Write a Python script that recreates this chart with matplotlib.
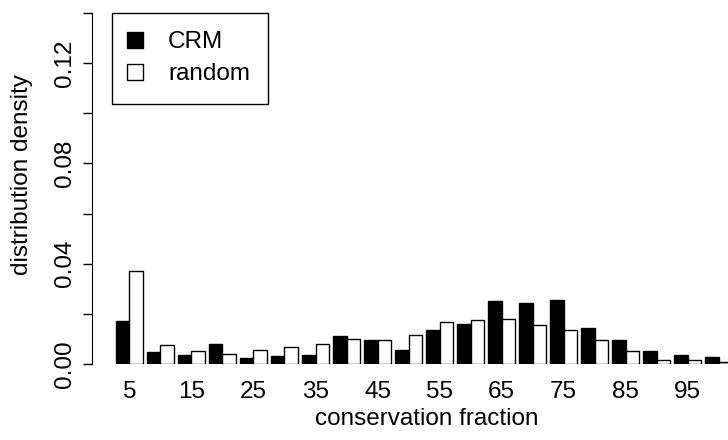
import numpy as np
import matplotlib
matplotlib.use("Agg")
import matplotlib.pyplot as plt
from matplotlib.lines import Line2D

plt.rcParams['font.family'] = ['Liberation Sans', 'DejaVu Sans']
plt.rcParams['font.size'] = 17.5

# conservation fraction bins (upper edge, percent)
bins = [5, 10, 15, 20, 25, 30, 35, 40, 45, 50,
        55, 60, 65, 70, 75, 80, 85, 90, 95, 100]
crm = [0.0170, 0.0046, 0.0037, 0.0078, 0.0022, 0.0030, 0.0037, 0.0110, 0.0095, 0.0054,
       0.0136, 0.0160, 0.0251, 0.0243, 0.0257, 0.0143, 0.0094, 0.0053, 0.0037, 0.0027]
rand = [0.0369, 0.0074, 0.0051, 0.0038, 0.0057, 0.0067, 0.0081, 0.0101, 0.0097, 0.0117,
        0.0166, 0.0176, 0.0179, 0.0154, 0.0134, 0.0097, 0.0051, 0.0017, 0.0017, 0.0007]
yticks = [0.00, 0.02, 0.04, 0.06, 0.08, 0.10, 0.12, 0.14]

# barplot(beside=TRUE, space=c(0, 0.3)) layout: bar width 1, group pitch 2.3
centers = 1 + 2.3 * np.arange(len(bins))

fig = plt.figure(figsize=(7.28, 4.40), dpi=100)
ax = fig.add_axes([92 / 728, 76 / 440, 636 / 728, 351 / 440])

ax.bar(centers - 0.5, crm, width=1, color='black', edgecolor='black', linewidth=1)
ax.bar(centers + 0.5, rand, width=1, facecolor='white', edgecolor='black', linewidth=1)

ax.set_xlim(-1.78, 45.40)
ax.set_ylim(0, 0.14)

for s in ['top', 'right', 'bottom']:
    ax.spines[s].set_visible(False)
ax.spines['left'].set_bounds(0, 0.14)

ax.set_yticks(yticks)
ax.set_yticklabels(['%.2f' % v if i % 2 == 0 else '' for i, v in enumerate(yticks)],
                   rotation=90, va='center')
ax.tick_params(axis='y', length=6.5, width=1, pad=5)

ax.set_xticks(centers[::2])
ax.set_xticklabels([str(b) for b in bins[::2]])
ax.tick_params(axis='x', length=0, pad=12)

# axis titles sit where the (wider) R plot region put them
ax.set_xlabel('conservation fraction')
ax.set_ylabel('distribution density')
ax.xaxis.set_label_coords((427 - 92) / 636, (364 - 419) / 351)
ax.xaxis.label.set_va('center')
ax.yaxis.set_label_coords((22 - 92) / 636, (364 - 175) / 351)
ax.yaxis.label.set_va('center')

handles = [Line2D([], [], marker='s', linestyle='none', markersize=11.5,
                  markerfacecolor='black', markeredgecolor='black'),
           Line2D([], [], marker='s', linestyle='none', markersize=11.5,
                  markerfacecolor='white', markeredgecolor='black')]
leg = ax.legend(handles, ['CRM', 'random'], loc='upper left',
                bbox_to_anchor=(20 / 636, 1.0), borderaxespad=0,
                fancybox=False, framealpha=1, edgecolor='black',
                handlelength=0.4, handleheight=0.7, handletextpad=1.16,
                labelspacing=0.42, borderpad=0.75)
leg.get_frame().set_linewidth(1)

fig.savefig('out.png', dpi=100)
